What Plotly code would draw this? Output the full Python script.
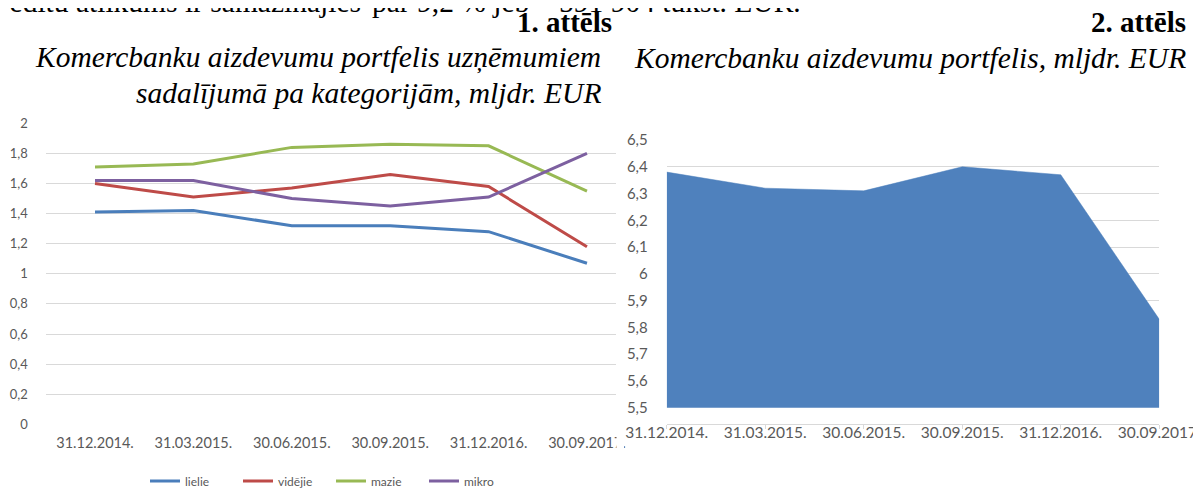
import plotly.graph_objects as go

# page offset of the plot div (browser default body margin)
OFF = 8
W, H = 1201 - OFF, 488 - OFF

# ---- data ----
dates_left = ["31.12.2014.", "31.03.2015.", "30.06.2015.", "30.09.2015.", "31.12.2016.", "30.09.2017."]
lielie = [1.41, 1.42, 1.32, 1.32, 1.28, 1.07]
videjie = [1.60, 1.51, 1.57, 1.66, 1.58, 1.18]
mazie = [1.71, 1.73, 1.84, 1.86, 1.85, 1.55]
mikro = [1.62, 1.62, 1.50, 1.45, 1.51, 1.80]
series_names = ["lielie", "vidējie", "mazie", "mikro"]

dates_right = ["31.12.2014.", "31.03.2015.", "30.06.2015.", "30.09.2015.", "31.12.2016.", "30.09.2017."]
portfelis = [6.38, 6.32, 6.31, 6.40, 6.37, 5.83]

colors = ["#4A7EBB", "#BE4B48", "#98B954", "#7D60A0"]


def px(x):
    return (x - OFF) / W


def py(y):
    return (H - (y - OFF)) / H


fig = go.Figure()
for name, vals, c in zip(series_names, [lielie, videjie, mazie, mikro], colors):
    fig.add_trace(go.Scatter(x=dates_left, y=vals, mode="lines", name=name,
                             line=dict(color=c, width=3), xaxis="x", yaxis="y"))

fig.add_trace(go.Scatter(x=dates_right, y=portfelis, mode="lines", fill="tozeroy",
                         fillcolor="#4F81BD", line=dict(color="#4F81BD", width=0.5),
                         showlegend=False, xaxis="x2", yaxis="y2"))

grid = "#D9D9D9"
tickc = "#595959"
fnt = "Lato"

fig.update_layout(
    width=W, height=H,
    margin=dict(l=0, r=0, t=0, b=0, pad=0, autoexpand=False),
    paper_bgcolor="white", plot_bgcolor="white",
    separators=", ",
    font=dict(family=fnt, color=tickc),
    xaxis=dict(domain=[px(45.8), px(616)], range=[-0.5, 5.295], type="category",
               showgrid=False, showline=False, zeroline=False, ticks="", automargin=False,
               tickfont=dict(size=14.5, color=tickc, family=fnt), ticklabelstandoff=8),
    yaxis=dict(domain=[py(424.3), py(123.3)], range=[0, 2], dtick=0.2, automargin=False,
               showgrid=True, gridcolor=grid, gridwidth=1, zeroline=False,
               showline=False, ticks="", tickfont=dict(size=13, color=tickc, family=fnt),
               ticklabelstandoff=17),
    xaxis2=dict(domain=[px(666.7), px(1159.3)], range=[0, 5], type="category", automargin=False,
                showgrid=False, showline=True, linecolor=grid, linewidth=1, zeroline=False,
                ticks="outside", ticklen=4, tickcolor=grid,
                tickfont=dict(size=15.5, color=tickc, family=fnt), ticklabelstandoff=-10),
    yaxis2=dict(domain=[py(407.7), py(140)], range=[5.5, 6.5], dtick=0.1, anchor="x2",
                automargin=False,
                showgrid=True, gridcolor=grid, gridwidth=1, zeroline=False,
                showline=False, ticks="", tickfont=dict(size=15, color=tickc, family=fnt),
                ticklabelstandoff=18),
    legend=dict(orientation="h", x=px(145), xanchor="left", y=py(481), yanchor="middle",
                font=dict(size=12, color=tickc, family=fnt), bgcolor="rgba(0,0,0,0)",
                itemwidth=30, tracegroupgap=0, entrywidth=48),
    showlegend=True,
)

# mask clipping the cut-off last label on the left chart
fig.add_shape(type="rect", xref="paper", yref="paper", x0=px(616.5), x1=px(624),
              y0=py(458), y1=py(428), fillcolor="white", line=dict(width=0), layer="above")

serif = "Liberation Serif"
blk = "black"
ann = [
    dict(text="kredītu atlikums ir samazinājies", x=px(363), y=py(1.5),
         xanchor="right", yanchor="middle", font=dict(family=serif, size=29.5, color=blk)),
    dict(text="par 9,2 % jeb", x=px(370), y=py(1.5),
         xanchor="left", yanchor="middle", font=dict(family=serif, size=29.5, color=blk)),
    dict(text="591 904 tūkst. EUR.", x=px(557), y=py(1.5),
         xanchor="left", yanchor="middle", font=dict(family=serif, size=29.5, color=blk)),
    dict(text="<b>1. attēls</b>", x=px(614), y=py(22), xanchor="right", yanchor="middle",
         font=dict(family=serif, size=29, color=blk)),
    dict(text="<i>Komercbanku aizdevumu portfelis uzņēmumiem</i>", x=px(603), y=py(58),
         xanchor="right", yanchor="middle", font=dict(family=serif, size=29.5, color=blk)),
    dict(text="<i>sadalījumā pa kategorijām, mljdr. EUR</i>", x=px(603), y=py(93),
         xanchor="right", yanchor="middle", font=dict(family=serif, size=29.5, color=blk)),
    dict(text="<b>2. attēls</b>", x=px(1188), y=py(22), xanchor="right", yanchor="middle",
         font=dict(family=serif, size=29, color=blk)),
    dict(text="<i>Komercbanku aizdevumu portfelis, mljdr. EUR</i>", x=px(1188), y=py(58),
         xanchor="right", yanchor="middle", font=dict(family=serif, size=29.5, color=blk)),
]
for a in ann:
    fig.add_annotation(xref="paper", yref="paper", showarrow=False, **a)

fig.write_html("out.html")
